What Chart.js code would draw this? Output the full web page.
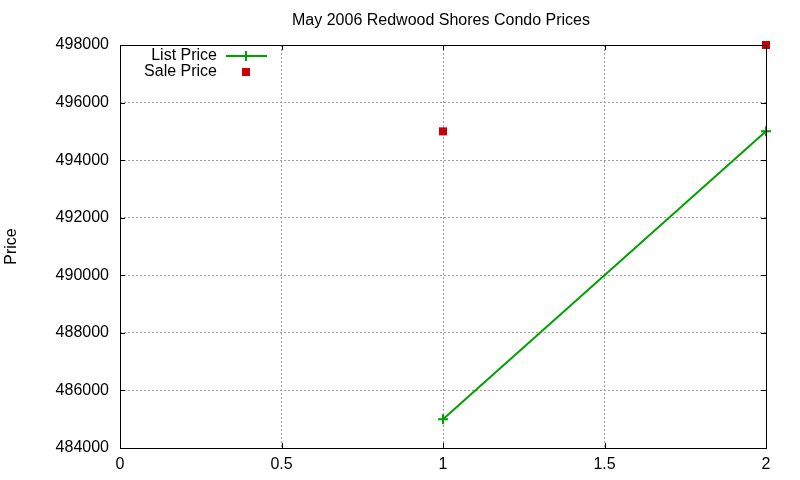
<!DOCTYPE html>
<html>
<head>
<meta charset="utf-8">
<script src="https://cdn.jsdelivr.net/npm/chart.js@4/dist/chart.umd.min.js"></script>
<style>
  html, body { margin: 0; padding: 0; background: #fff; }
  #wrap { width: 800px; height: 480px; }
</style>
</head>
<body>
<div id="wrap"><canvas id="chart"></canvas></div>
<script>
// ===== DATA =====
const chartTitle = "May 2006 Redwood Shores Condo Prices";
const xValues    = [1, 2];
const listPrice  = [485000, 495000];
const salePrice  = [495000, 498000];
const xTicks     = [0, 0.5, 1, 1.5, 2];
const yTicks     = [484000, 486000, 488000, 490000, 492000, 494000, 496000, 498000];

const FONT   = "'Liberation Sans', Arial, sans-serif";
const GREEN  = "#00a000";
const RED    = "#cc0000";

// ===== PLUGIN: title, border, inward ticks, gnuplot-style key =====
const gnuFrame = {
  id: "gnuFrame",
  afterDatasetsDraw(chart) {
    const { ctx, chartArea: a, scales } = chart;
    ctx.save();

    // title centred over the plot area
    ctx.font = "16px " + FONT;
    ctx.fillStyle = "#000";
    ctx.textAlign = "center";
    ctx.textBaseline = "middle";
    ctx.fillText(chartTitle, (a.left + a.right) / 2 - 2, 21);

    ctx.strokeStyle = "#000";
    ctx.lineWidth = 1;
    ctx.strokeRect(a.left + 0.5, a.top + 0.5, a.right - a.left, a.bottom - a.top);

    // inward ticks on all four sides
    ctx.beginPath();
    xTicks.forEach(v => {
      const x = Math.round(scales.x.getPixelForValue(v)) + 0.5;
      ctx.moveTo(x, a.bottom); ctx.lineTo(x, a.bottom - 5);
      ctx.moveTo(x, a.top);    ctx.lineTo(x, a.top + 5);
    });
    yTicks.forEach(v => {
      const y = Math.round(scales.y.getPixelForValue(v)) + 0.5;
      ctx.moveTo(a.left, y);  ctx.lineTo(a.left + 5, y);
      ctx.moveTo(a.right, y); ctx.lineTo(a.right - 5, y);
    });
    ctx.stroke();

    // key
    ctx.font = "16px " + FONT;
    ctx.textAlign = "right";
    chart.data.datasets.forEach((ds, i) => {
      const y = 56 + i * 16;
      ctx.fillStyle = "#000";
      ctx.fillText(ds.label, 217, y);
      if (ds.showLine) {
        ctx.strokeStyle = ds.borderColor;
        ctx.lineWidth = 2;
        ctx.beginPath();
        ctx.moveTo(226, y); ctx.lineTo(267, y);
        ctx.moveTo(246, y - 5); ctx.lineTo(246, y + 5);
        ctx.stroke();
      } else {
        ctx.fillStyle = ds.pointBackgroundColor;
        ctx.fillRect(242, y - 4, 8, 8);
      }
    });
    ctx.restore();
  }
};

// ===== CHART =====
const toPoints = ys => xValues.map((x, i) => ({ x, y: ys[i] }));

new Chart(document.getElementById("chart"), {
  type: "scatter",
  data: {
    datasets: [
      {
        label: "List Price",
        data: toPoints(listPrice),
        showLine: true,
        borderColor: GREEN,
        borderWidth: 2,
        pointStyle: "cross",
        pointRadius: 5,
        pointBorderWidth: 2,
        pointBorderColor: GREEN,
        pointBackgroundColor: GREEN,
        clip: false
      },
      {
        label: "Sale Price",
        data: toPoints(salePrice),
        showLine: false,
        pointStyle: "rect",
        pointRadius: 5.7,
        pointBorderWidth: 0,
        pointBackgroundColor: RED,
        pointBorderColor: RED,
        clip: false
      }
    ]
  },
  options: {
    responsive: true,
    maintainAspectRatio: false,
    animation: false,
    layout: { padding: { left: 0, right: 34, top: 45, bottom: 0 } },
    plugins: {
      legend: { display: false },
      tooltip: { enabled: false },
      title: { display: false }
    },
    scales: {
      x: {
        type: "linear",
        min: 0, max: 2,
        afterBuildTicks: s => { s.ticks = xTicks.map(v => ({ value: v })); },
        afterFit: s => { s.height = 32; },
        ticks: { color: "#000", font: { family: FONT, size: 16 }, padding: 7, callback: v => String(v) },
        grid: { color: "#a0a0a0", drawTicks: false },
        border: { display: false, dash: [2, 2] }
      },
      y: {
        min: 484000, max: 498000,
        afterBuildTicks: s => { s.ticks = yTicks.map(v => ({ value: v })); },
        afterFit: s => { s.width = 120; },
        ticks: { color: "#000", font: { family: FONT, size: 16 }, padding: 11, callback: v => String(v) },
        grid: { color: "#a0a0a0", drawTicks: false },
        border: { display: false, dash: [2, 2] },
        title: {
          display: true,
          text: "Price",
          color: "#000",
          font: { family: FONT, size: 16 },
          padding: { top: 2, bottom: 0 }
        }
      }
    }
  },
  plugins: [gnuFrame]
});
</script>
</body>
</html>
